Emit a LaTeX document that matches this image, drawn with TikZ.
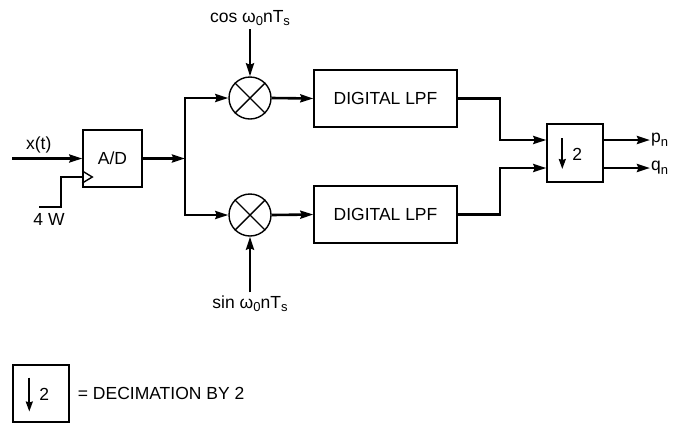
\documentclass[tikz,border=0pt]{standalone}
\usepackage{fontspec}
\setmainfont{Liberation Sans}
\usetikzlibrary{positioning, arrows.meta, calc}
\newcommand{\lowidx}[1]{\raisebox{-0.35ex}{\fontsize{13}{13}\selectfont #1}}

\begin{document}
\begin{tikzpicture}[
		x=1pt, y=-1pt,
		font=\fontsize{17.5}{20}\selectfont,
		block/.style={draw=black, line width=1.4pt, minimum width=143pt, minimum height=57pt, inner sep=0pt},
		mixer/.style={draw=black, line width=1.4pt, circle, minimum size=42pt, inner sep=0pt},
		signal/.style={line width=2.6pt, -{Stealth[length=13pt, width=8pt, inset=1.5pt]}},
		wire/.style={line width=2.6pt},
		symbol/.style={line width=1.8pt, -{Stealth[length=10pt, width=7pt, inset=1pt]}}
		]
		
		% fixed frame of the page
		\useasboundingbox (0,0) rectangle (687,424);
		
		% 1. Converter with its clock
		\node[block, minimum width=59pt] (AD) at (112.5,158.5) {A/D};
		\coordinate (xin) at (12,158.5);
		\draw[signal] (xin) -- (AD.west) node[pos=0.38, above=1pt] {x(t)};
		
		\draw[line width=1.4pt] ($(AD.west)+(0,12.5)$) -- ++(10,6) -- ++(-10,6);
		\coordinate (clkIn) at ($(AD.west)+(0,18.5)$);
		\coordinate (clk) at (39,207);
		\draw[wire] (clk) -- ++(22,0) |- (clkIn);
		\node (clkL) at (49,219) {4 W};
		
		% 2. Mixers and filters
		\node[mixer] (mixC) at (250,98) {};
		\node[mixer] (mixS) at (250,215) {};
		\foreach \m in {mixC, mixS} {
			\draw[line width=1.4pt] (\m.north west) -- (\m.south east);
			\draw[line width=1.4pt] (\m.north east) -- (\m.south west);
		}
		\node[block] (lpfC) at (385.5,98.5) {DIGITAL LPF};
		\node[block] (lpfS) at (385.5,214.5) {DIGITAL LPF};
		
		\node (cosL) at (250,18) {cos ω\lowidx{0}nT\lowidx{s}};
		\node (sinL) at (250,304) {sin ω\lowidx{0}nT\lowidx{s}};
		\draw[signal] (cosL.south) -- (mixC.north);
		\draw[signal] (sinL.north) -- (mixS.south);
		
		% Split after the converter
		\coordinate (split) at (185,158.5);
		\draw[signal] (AD.east) -- (split);
		\draw[signal] (split) |- (mixC.west);
		\draw[signal] (split) |- (mixS.west);
		
		\draw[signal] (mixC.east) -- (lpfC.west);
		\draw[signal] (mixS.east) -- (lpfS.west);
		
		% 3. Decimator
		\node[block, minimum width=56pt, minimum height=58pt] (dec) at (575,153) {};
		\draw[symbol] ($(dec.west)+(16,-15)$) -- ++(0,31);
		\node at ($(dec.west)+(31,1)$) {2};
		
		\coordinate (jC) at (500,140);
		\coordinate (jS) at (500,168);
		\draw[signal] (lpfC.east) -| (jC) -- (dec.west |- jC);
		\draw[signal] (lpfS.east) -| (jS) -- (dec.west |- jS);
		
		\node[anchor=west, inner sep=1pt] (pn) at (650,140) {p\lowidx{n}};
		\node[anchor=west, inner sep=1pt] (qn) at (650,168) {q\lowidx{n}};
		\draw[signal] (dec.east |- jC) -- (pn.west);
		\draw[signal] (dec.east |- jS) -- (qn.west);
		
		% 4. Key
		\node[block, minimum width=56pt, minimum height=57pt] (key) at (41,393.5) {};
		\draw[symbol] ($(key.west)+(17,-16)$) -- ++(0,34);
		\node at ($(key.west)+(32,1)$) {2};
		\node[anchor=west, inner sep=0pt] (keyL) at ($(key.east)+(8,0)$) {= DECIMATION BY 2};
		
	\end{tikzpicture}
\end{document}
